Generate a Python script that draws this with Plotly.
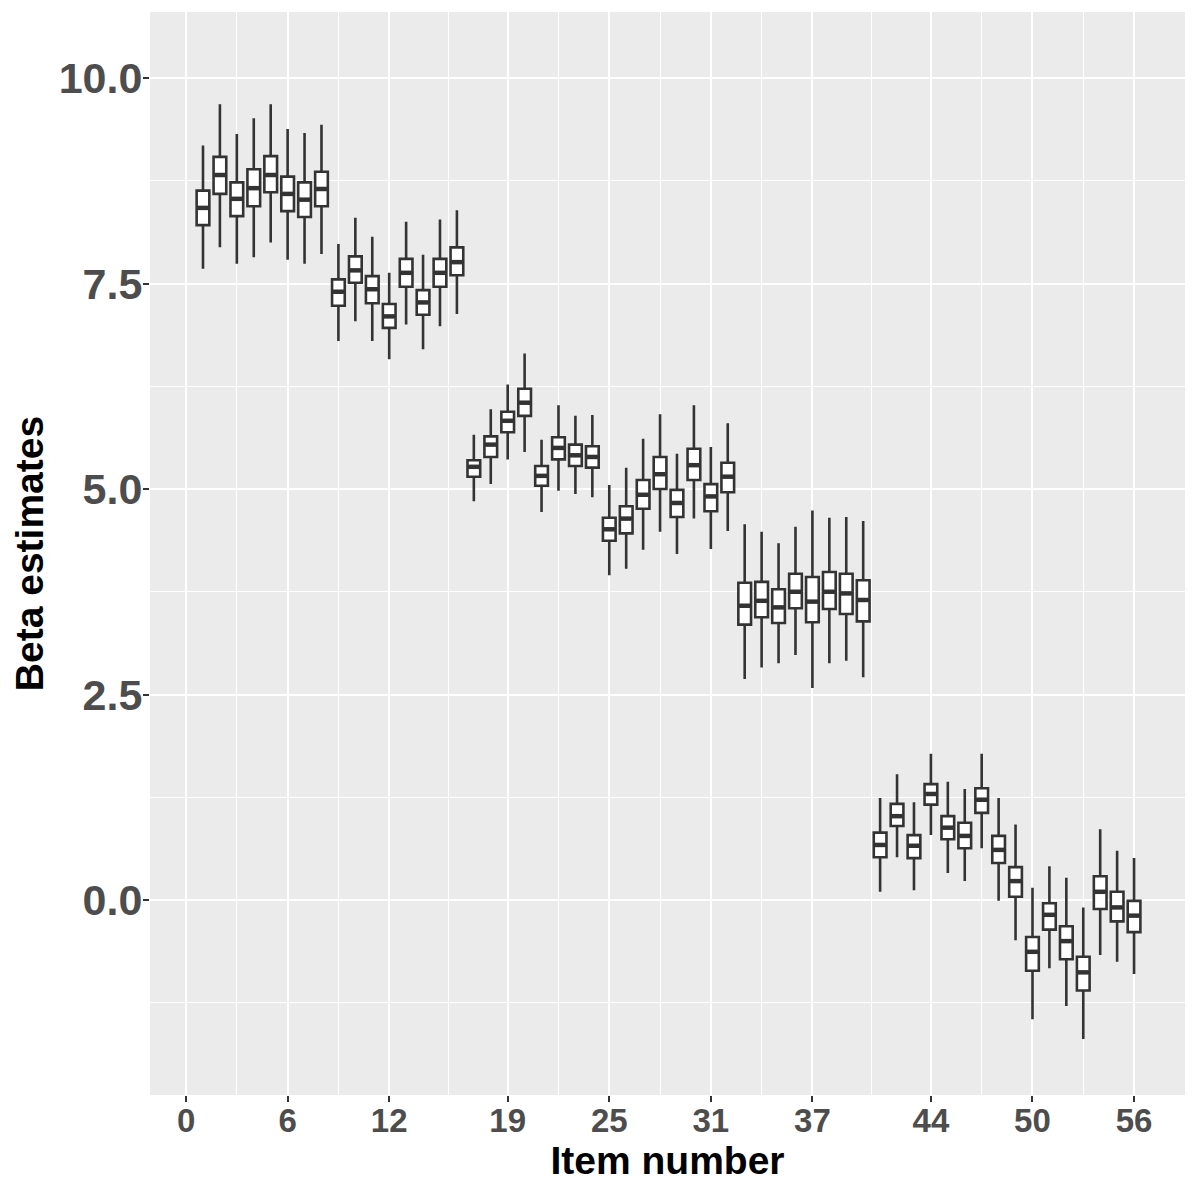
import plotly.graph_objects as go

items = list(range(1, 57))

upper = [9.18, 9.68, 9.32, 9.51, 9.68, 9.38, 9.33, 9.43,
         7.98, 8.30, 8.07, 7.63, 8.25, 7.85, 8.28, 8.39,
         5.66, 5.97, 6.27, 6.65, 5.60, 6.02, 5.89, 5.90,
         5.05, 5.26, 5.61, 5.91, 5.43, 6.02, 5.51, 5.80,
         4.57, 4.48, 4.34, 4.54, 4.74, 4.65, 4.66, 4.61,
         1.24, 1.53, 1.19, 1.78, 1.44, 1.35, 1.78, 1.24,
         0.92, 0.15, 0.41, 0.27, -0.09, 0.86, 0.60, 0.51]
q3 = [8.63, 9.04, 8.73, 8.89, 9.05, 8.80, 8.73, 8.86,
      7.55, 7.83, 7.59, 7.25, 7.80, 7.42, 7.80, 7.94,
      5.35, 5.64, 5.94, 6.22, 5.28, 5.63, 5.54, 5.52,
      4.65, 4.79, 5.11, 5.39, 4.99, 5.49, 5.06, 5.32,
      3.86, 3.87, 3.78, 3.97, 3.93, 3.99, 3.97, 3.89,
      0.82, 1.17, 0.79, 1.41, 1.02, 0.94, 1.36, 0.78,
      0.40, -0.45, -0.04, -0.32, -0.69, 0.29, 0.10, -0.01]
median = [8.42, 8.82, 8.53, 8.66, 8.82, 8.59, 8.52, 8.65,
          7.40, 7.66, 7.43, 7.10, 7.63, 7.27, 7.63, 7.76,
          5.27, 5.54, 5.83, 6.05, 5.16, 5.50, 5.41, 5.39,
          4.51, 4.64, 4.93, 5.18, 4.83, 5.29, 4.91, 5.15,
          3.58, 3.64, 3.56, 3.75, 3.63, 3.75, 3.73, 3.65,
          0.67, 1.02, 0.66, 1.29, 0.88, 0.78, 1.22, 0.61,
          0.23, -0.63, -0.18, -0.50, -0.88, 0.10, -0.09, -0.19]
q1 = [8.21, 8.59, 8.32, 8.44, 8.61, 8.38, 8.31, 8.44,
      7.23, 7.51, 7.26, 6.96, 7.46, 7.12, 7.46, 7.60,
      5.15, 5.39, 5.69, 5.89, 5.04, 5.36, 5.28, 5.26,
      4.37, 4.46, 4.76, 5.00, 4.66, 5.11, 4.73, 4.96,
      3.35, 3.44, 3.37, 3.55, 3.38, 3.54, 3.48, 3.39,
      0.52, 0.90, 0.51, 1.16, 0.74, 0.63, 1.06, 0.45,
      0.04, -0.86, -0.36, -0.72, -1.10, -0.11, -0.26, -0.39]
lower = [7.68, 7.94, 7.74, 7.82, 8.00, 7.79, 7.74, 7.86,
         6.80, 7.04, 6.80, 6.58, 7.00, 6.70, 6.98, 7.13,
         4.85, 5.06, 5.36, 5.45, 4.72, 4.98, 4.94, 4.90,
         3.95, 4.03, 4.26, 4.48, 4.21, 4.64, 4.27, 4.49,
         2.69, 2.83, 2.88, 2.98, 2.58, 2.88, 2.91, 2.71,
         0.10, 0.52, 0.12, 0.79, 0.33, 0.23, 0.63, -0.01,
         -0.49, -1.45, -0.83, -1.29, -1.69, -0.67, -0.75, -0.90]

x_ticks = [0, 6, 12, 19, 25, 31, 37, 44, 50, 56]
x_minor = [3, 9, 15.5, 22, 28, 34, 40.5, 47, 53]
y_ticks = [0.0, 2.5, 5.0, 7.5, 10.0]
y_tick_labels = ["0.0", "2.5", "5.0", "7.5", "10.0"]
y_minor = [-1.25, 1.25, 3.75, 6.25, 8.75]

BOX_W = 0.75
LINE = "#333333"
FONT = "Liberation Sans"

fig = go.Figure()
fig.add_trace(go.Box(
    x=items, q1=q1, median=median, q3=q3,
    lowerfence=lower, upperfence=upper,
    width=BOX_W, whiskerwidth=0,
    fillcolor="white", line=dict(color=LINE, width=2.6),
    boxpoints=False, showlegend=False, hoverinfo="skip",
))

# thicker median bars (ggplot style)
mx, my = [], []
for xi, m in zip(items, median):
    mx += [xi - BOX_W / 2 + 0.05, xi + BOX_W / 2 - 0.05, None]
    my += [m, m, None]
fig.add_trace(go.Scatter(x=mx, y=my, mode="lines",
                         line=dict(color=LINE, width=4.5),
                         showlegend=False, hoverinfo="skip"))

fig.update_layout(
    width=1200, height=1200,
    margin=dict(l=142, r=23, t=4, b=113),
    paper_bgcolor="white", plot_bgcolor="#EBEBEB",
    font=dict(family=FONT),
)
fig.update_xaxes(
    range=[-2.13, 59.01], tickmode="array", tickvals=x_ticks,
    ticktext=[str(v) for v in x_ticks],
    showgrid=True, gridcolor="white", gridwidth=2, zeroline=False,
    minor=dict(tickmode="array", tickvals=x_minor, showgrid=True,
               gridcolor="white", gridwidth=1, ticks=""),
    ticks="outside", ticklen=6, tickwidth=2, tickcolor=LINE,
    ticklabelstandoff=-10,
    tickfont=dict(family=FONT, size=33, color="#4D4D4D", weight="bold"),
    title=dict(text="Item number", standoff=0,
               font=dict(family=FONT, size=39, color="black", weight="bold")),
    showline=False,
)
fig.update_yaxes(
    range=[-2.372, 10.803], tickmode="array", tickvals=y_ticks,
    ticktext=y_tick_labels,
    showgrid=True, gridcolor="white", gridwidth=2, zeroline=False,
    minor=dict(tickmode="array", tickvals=y_minor, showgrid=True,
               gridcolor="white", gridwidth=1, ticks=""),
    ticks="outside", ticklen=6, tickwidth=2, tickcolor=LINE,
    ticklabelstandoff=-8,
    tickfont=dict(family=FONT, size=43, color="#4D4D4D", weight="bold"),
    title=dict(text="Beta estimates", standoff=7,
               font=dict(family=FONT, size=39, color="black", weight="bold")),
    showline=False,
)

fig.write_html("out.html")
